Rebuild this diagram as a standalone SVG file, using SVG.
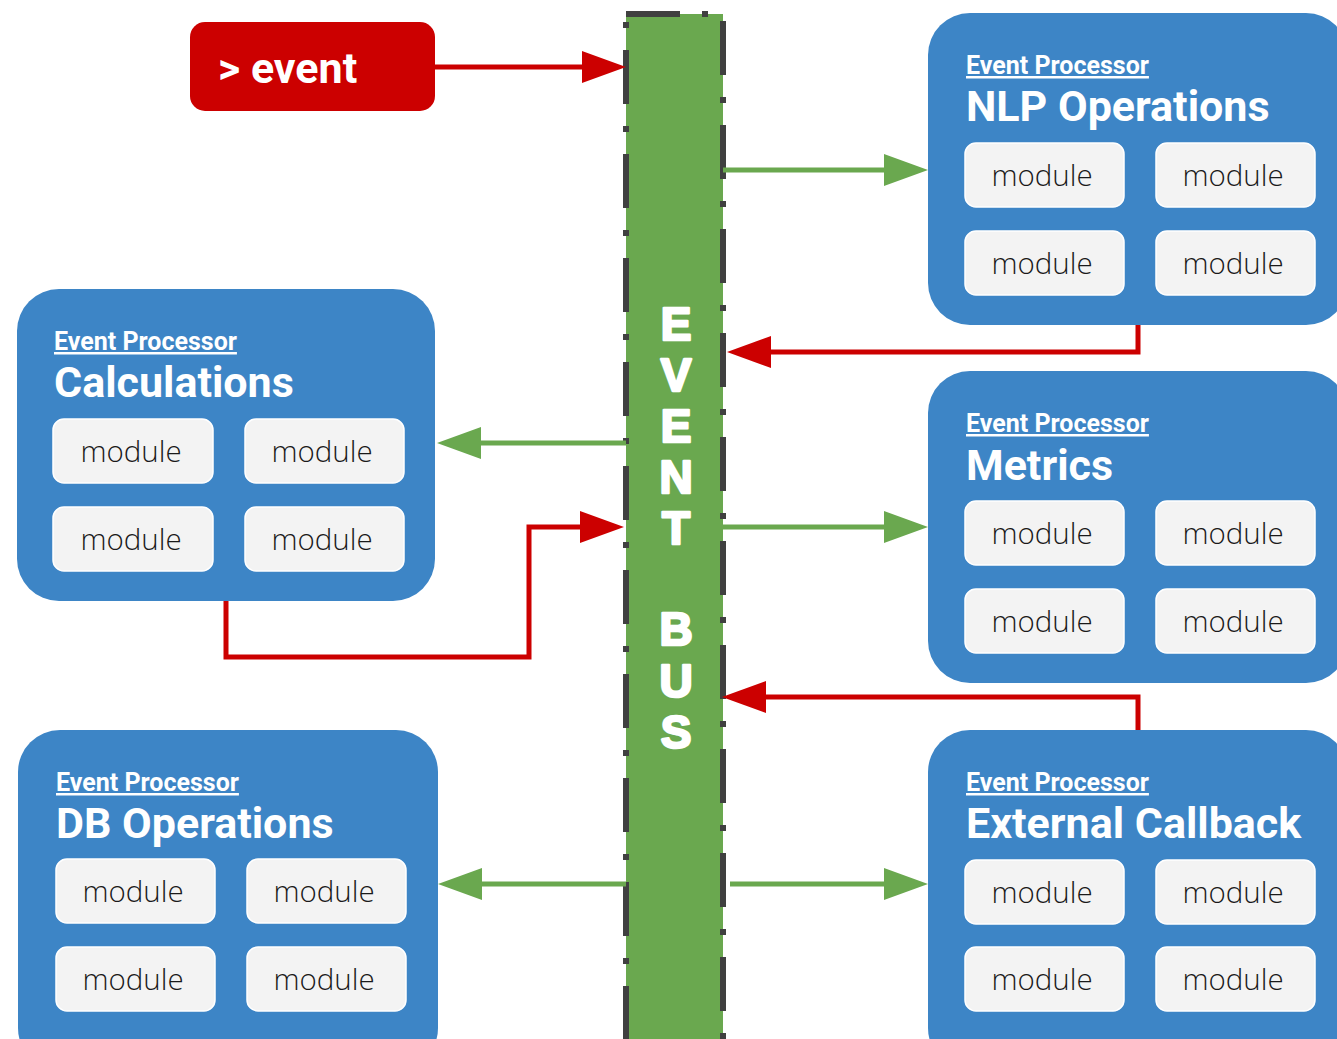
<svg xmlns="http://www.w3.org/2000/svg" width="1337" height="1039" viewBox="0 0 1337 1039">
<style>
.box{fill:#3d85c6}
.mod{fill:#f3f3f3;stroke:#ffffff;stroke-width:1.5}
.mt{font-family:"Open Sans","Noto Sans",sans-serif;font-weight:300;font-size:29.5px;fill:#1a1a1a;text-anchor:middle}
.sub{font-family:Roboto,"Liberation Sans",sans-serif;font-weight:700;font-size:25px;fill:#ffffff;text-decoration:underline}
.ttl{font-family:Roboto,"Liberation Sans",sans-serif;font-weight:700;font-size:43px;fill:#ffffff}
.bus{font-family:"Liberation Sans",Arial,sans-serif;font-weight:900;font-size:46px;fill:#ffffff;text-anchor:middle;stroke:#ffffff;stroke-width:2.5;stroke-linejoin:round}
.g{fill:none;stroke:#6aa84f;stroke-width:5}
.r{fill:none;stroke:#cc0000;stroke-width:5}
</style>
<defs>
<marker id="ag" viewBox="0 0 44 32" refX="24" refY="16" markerWidth="44" markerHeight="32" markerUnits="userSpaceOnUse" orient="auto"><path d="M0,0 L44,16 L0,32 z" fill="#6aa84f"/></marker>
<marker id="ar" viewBox="0 0 44 32" refX="24" refY="16" markerWidth="44" markerHeight="32" markerUnits="userSpaceOnUse" orient="auto"><path d="M0,0 L44,16 L0,32 z" fill="#cc0000"/></marker>
</defs>
<rect width="1337" height="1039" fill="#ffffff"/>

<g id="event-bus">
<rect x="626" y="14" width="97" height="1040" fill="#6aa84f" stroke="#404040" stroke-width="6" stroke-dasharray="54 22 6 22"/>
<text class="bus" x="676" y="340">E</text>
<text class="bus" x="676" y="391">V</text>
<text class="bus" x="676" y="442">E</text>
<text class="bus" x="676" y="493">N</text>
<text class="bus" x="676" y="544">T</text>
<text class="bus" x="676" y="645">B</text>
<text class="bus" x="676" y="697">U</text>
<text class="bus" x="676" y="748">S</text>
</g>

<g id="connectors">
<line class="r" x1="435" y1="67" x2="606" y2="67" marker-end="url(#ar)"/>
<line class="g" x1="723" y1="170" x2="908" y2="170" marker-end="url(#ag)"/>
<polyline class="r" points="1138,325 1138,352 747,352" marker-end="url(#ar)"/>
<line class="g" x1="626" y1="443" x2="457" y2="443" marker-end="url(#ag)"/>
<polyline class="r" points="226,601 226,657 529,657 529,527 604,527" marker-end="url(#ar)"/>
<line class="g" x1="723" y1="527" x2="908" y2="527" marker-end="url(#ag)"/>
<polyline class="r" points="1138,730 1138,697 742,697" marker-end="url(#ar)"/>
<line class="g" x1="626" y1="884" x2="458" y2="884" marker-end="url(#ag)"/>
<line class="g" x1="730" y1="884" x2="908" y2="884" marker-end="url(#ag)"/>
</g>

<g id="event-source">
<rect x="190" y="22" width="245" height="89" rx="15" fill="#cc0000"/>
<text x="218" y="83" font-family="Roboto,'Liberation Sans',sans-serif" font-weight="700" font-size="43" fill="#ffffff">&gt; event</text>
</g>

<g id="nlp-operations">
<rect class="box" x="928" y="13" width="420" height="312" rx="42"/>
<text class="sub" x="966" y="74">Event Processor</text>
<text class="ttl" x="966" y="121">NLP Operations</text>
<rect class="mod" x="965" y="143" width="159" height="64" rx="11"/>
<rect class="mod" x="1156" y="143" width="159" height="64" rx="11"/>
<rect class="mod" x="965" y="231" width="159" height="64" rx="11"/>
<rect class="mod" x="1156" y="231" width="159" height="64" rx="11"/>
<text class="mt" x="1042" y="186">module</text>
<text class="mt" x="1233" y="186">module</text>
<text class="mt" x="1042" y="274">module</text>
<text class="mt" x="1233" y="274">module</text>
</g>

<g id="calculations">
<rect class="box" x="17" y="289" width="418" height="312" rx="42"/>
<text class="sub" x="54" y="350">Event Processor</text>
<text class="ttl" x="54" y="397">Calculations</text>
<rect class="mod" x="53" y="419" width="160" height="64" rx="11"/>
<rect class="mod" x="245" y="419" width="159" height="64" rx="11"/>
<rect class="mod" x="53" y="507" width="160" height="64" rx="11"/>
<rect class="mod" x="245" y="507" width="159" height="64" rx="11"/>
<text class="mt" x="131" y="462">module</text>
<text class="mt" x="322" y="462">module</text>
<text class="mt" x="131" y="550">module</text>
<text class="mt" x="322" y="550">module</text>
</g>

<g id="metrics">
<rect class="box" x="928" y="371" width="420" height="312" rx="42"/>
<text class="sub" x="966" y="432">Event Processor</text>
<text class="ttl" x="966" y="480">Metrics</text>
<rect class="mod" x="965" y="501" width="159" height="64" rx="11"/>
<rect class="mod" x="1156" y="501" width="159" height="64" rx="11"/>
<rect class="mod" x="965" y="589" width="159" height="64" rx="11"/>
<rect class="mod" x="1156" y="589" width="159" height="64" rx="11"/>
<text class="mt" x="1042" y="544">module</text>
<text class="mt" x="1233" y="544">module</text>
<text class="mt" x="1042" y="632">module</text>
<text class="mt" x="1233" y="632">module</text>
</g>

<g id="db-operations">
<rect class="box" x="18" y="730" width="420" height="340" rx="42"/>
<text class="sub" x="56" y="791">Event Processor</text>
<text class="ttl" x="56" y="838">DB Operations</text>
<rect class="mod" x="56" y="859" width="159" height="64" rx="11"/>
<rect class="mod" x="247" y="859" width="159" height="64" rx="11"/>
<rect class="mod" x="56" y="947" width="159" height="64" rx="11"/>
<rect class="mod" x="247" y="947" width="159" height="64" rx="11"/>
<text class="mt" x="133" y="902">module</text>
<text class="mt" x="324" y="902">module</text>
<text class="mt" x="133" y="990">module</text>
<text class="mt" x="324" y="990">module</text>
</g>

<g id="external-callback">
<rect class="box" x="928" y="730" width="420" height="340" rx="42"/>
<text class="sub" x="966" y="791">Event Processor</text>
<text class="ttl" x="966" y="838">External Callback</text>
<rect class="mod" x="965" y="860" width="159" height="64" rx="11"/>
<rect class="mod" x="1156" y="860" width="159" height="64" rx="11"/>
<rect class="mod" x="965" y="947" width="159" height="64" rx="11"/>
<rect class="mod" x="1156" y="947" width="159" height="64" rx="11"/>
<text class="mt" x="1042" y="903">module</text>
<text class="mt" x="1233" y="903">module</text>
<text class="mt" x="1042" y="990">module</text>
<text class="mt" x="1233" y="990">module</text>
</g>
</svg>
